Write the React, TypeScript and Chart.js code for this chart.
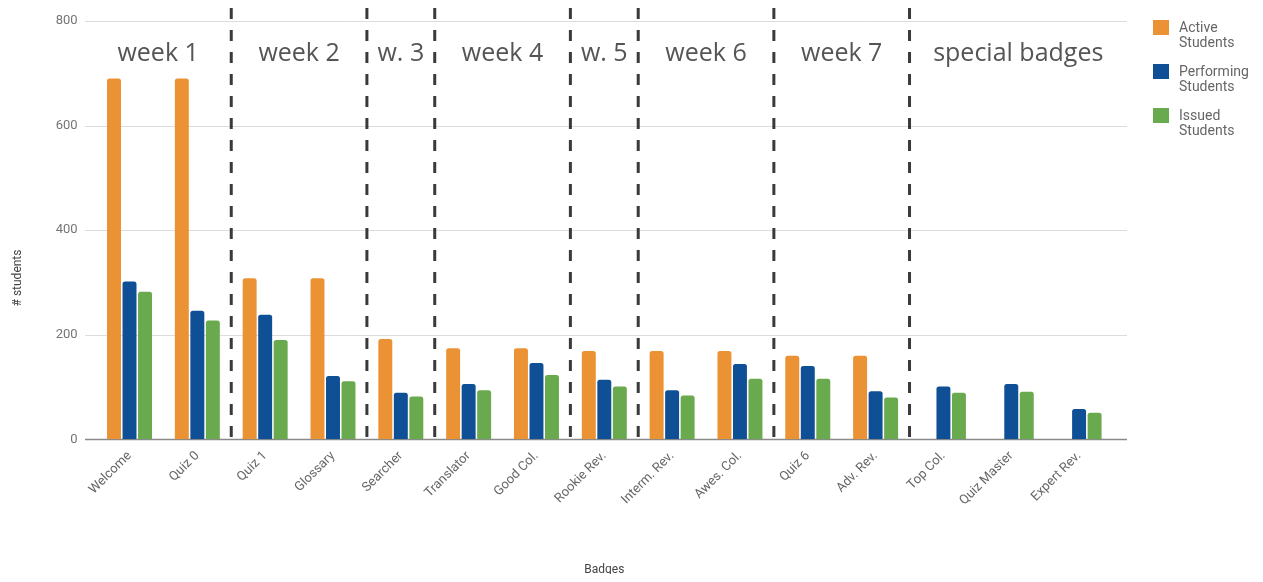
import { useEffect, useRef } from 'react'
import { Chart, registerables } from 'chart.js'
Chart.register(...registerables)

const badges = ['Welcome', 'Quiz 0', 'Quiz 1', 'Glossary', 'Searcher', 'Translator', 'Good Col.', 'Rookie Rev.', 'Interm. Rev.', 'Awes. Col.', 'Quiz 6', 'Adv. Rev.', 'Top Col.', 'Quiz Master', 'Expert Rev.']
const active     = [690, 690, 308, 308, 192, 174, 174, 169, 169, 169, 160, 160, null, null, null]
const performing = [302, 246, 238, 121, 89, 106, 146, 114, 94, 144, 140, 92, 101, 106, 58]
const issued     = [282, 227, 190, 111, 82, 94, 123, 101, 84, 116, 116, 80, 89, 91, 51]
const yTicks = [0, 200, 400, 600, 800]

// index of the last badge in each week (dashed separators drawn after them)
const weekEnds = [1, 3, 4, 6, 7, 9, 11]
const weekNames = ['week 1', 'week 2', 'w. 3', 'week 4', 'w. 5', 'week 6', 'week 7', 'special badges']

const series = [
  { label: 'Active Students', lines: ['Active', 'Students'], data: active, color: '#EB9234' },
  { label: 'Performing Students', lines: ['Performing', 'Students'], data: performing, color: '#0E4F96' },
  { label: 'Issued Students', lines: ['Issued', 'Students'], data: issued, color: '#6AAA4E' },
]

const EXT_L = 10.6, EXT_R = 14

const overlay = {
  id: 'overlay',
  beforeDatasetsDraw(chart: any) {
    const { ctx, chartArea: a, scales: { y } } = chart
    const left = a.left - EXT_L, right = a.right + EXT_R
    ctx.save()
    yTicks.forEach(v => {
      const py = Math.round(y.getPixelForValue(v)) + 0.5
      ctx.strokeStyle = v === 0 ? '#8a8a8a' : '#dcdcdc'
      ctx.lineWidth = v === 0 ? 1.5 : 1
      ctx.beginPath(); ctx.moveTo(left, py); ctx.lineTo(right, py); ctx.stroke()
    })
    // y title
    ctx.translate(18, 278)
    ctx.rotate(-Math.PI / 2)
    ctx.fillStyle = '#444'
    ctx.font = '12px Roboto'
    ctx.textAlign = 'center'; ctx.textBaseline = 'middle'
    ctx.fillText('# students', 0, 0)
    ctx.restore()
  },
  afterDraw(chart: any) {
    const { ctx, chartArea: a, scales: { x, y } } = chart
    const left = a.left - EXT_L, right = a.right + EXT_R
    const step = x.getPixelForValue(1) - x.getPixelForValue(0)
    const seps = weekEnds.map(i => x.getPixelForValue(i) + step / 2)
    ctx.save()
    ctx.strokeStyle = '#3a3a3a'
    ctx.lineWidth = 3
    ctx.setLineDash([11, 11])
    seps.forEach(px => {
      ctx.beginPath(); ctx.moveTo(px, 8); ctx.lineTo(px, y.getPixelForValue(0)); ctx.stroke()
    })
    const edges = [left, ...seps, right]
    ctx.fillStyle = '#555'
    ctx.font = '25px "Open Sans"'
    ctx.textAlign = 'center'; ctx.textBaseline = 'middle'
    weekNames.forEach((n, i) => ctx.fillText(n, (edges[i] + edges[i + 1]) / 2, 54))
    ctx.restore()
  },
}

export default function App() {
  const ref = useRef<HTMLCanvasElement>(null)

  useEffect(() => {
    if (!ref.current) return
    const chart = new Chart(ref.current, {
      type: 'bar',
      data: {
        labels: badges,
        datasets: series.map(s => ({
          label: s.label, data: s.data, backgroundColor: s.color,
          borderRadius: { topLeft: 2.5, topRight: 2.5 }, borderSkipped: 'bottom',
          categoryPercentage: 0.686, barPercentage: 0.9,
        })),
      },
      options: {
        animation: false, responsive: true, maintainAspectRatio: false,
        layout: { padding: { left: 0, right: 150, top: 21, bottom: 0 } },
        plugins: { legend: { display: false }, tooltip: { enabled: false } },
        scales: {
          x: {
            grid: { display: false }, border: { display: false },
            ticks: { color: '#666', font: { family: 'Roboto', size: 13 }, maxRotation: 45, minRotation: 45, padding: 1 },
            title: { display: true, text: 'Badges', color: '#444', font: { family: 'Roboto', size: 12 }, padding: { top: 0, bottom: 5 } },
            afterFit: (s: any) => { s.height = 142.7 },
          },
          y: {
            min: 0, max: 800,
            grid: { display: false }, border: { display: false },
            ticks: { stepSize: 200, color: '#757575', font: { family: 'Roboto', size: 13 }, padding: 10 },
            afterFit: (s: any) => { s.width = 95.6 },
          },
        },
      },
      plugins: [overlay],
    })
    return () => chart.destroy()
  }, [])

  return (
    <div style={{ position: 'relative', width: 1263, height: 582, margin: -8, background: '#fff', fontFamily: 'Roboto' }}>
      <canvas ref={ref} />
      {series.map((s, i) => (
        <div key={s.label} style={{ position: 'absolute', left: 1153, top: 20 + i * 44, display: 'flex', gap: 10 }}>
          <span style={{ width: 16, height: 15, background: s.color, display: 'inline-block', flex: 'none' }} />
          <span style={{ fontSize: 14, lineHeight: '15px', color: '#666' }}>
            {s.lines.map(l => <div key={l}>{l}</div>)}
          </span>
        </div>
      ))}
    </div>
  )
}
